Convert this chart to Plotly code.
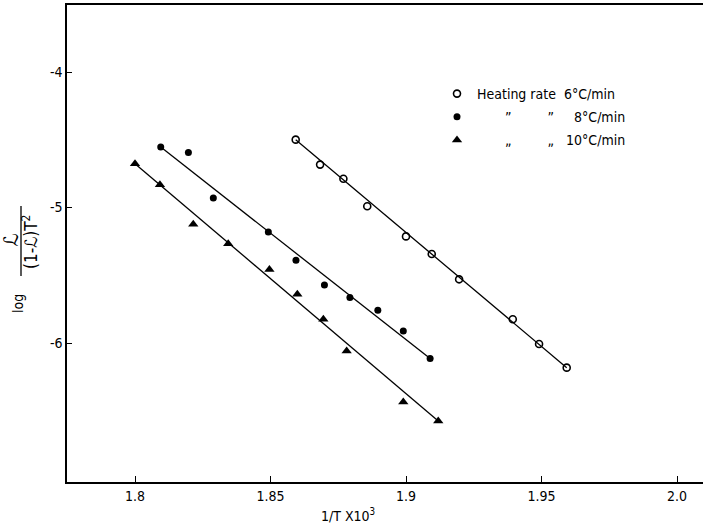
import plotly.graph_objects as go

# ---- data ----
x6 = [1.8593, 1.8683, 1.8769, 1.8857, 1.9000, 1.9095, 1.9196, 1.9394, 1.9491, 1.9593]
y6 = [-4.499, -4.683, -4.787, -4.991, -5.213, -5.343, -5.530, -5.825, -6.007, -6.182]

x8 = [1.8095, 1.8197, 1.8289, 1.8492, 1.8594, 1.8699, 1.8793, 1.8896, 1.8990, 1.9089]
y8 = [-4.553, -4.593, -4.930, -5.181, -5.390, -5.572, -5.665, -5.759, -5.911, -6.115]

x10 = [1.8000, 1.8092, 1.8215, 1.8344, 1.8496, 1.8599, 1.8695, 1.8781, 1.8990, 1.9119]
y10 = [-4.676, -4.831, -5.124, -5.267, -5.458, -5.641, -5.825, -6.059, -6.435, -6.576]

# fitted straight lines (end points)
fit6_x = [1.8593, 1.9593]
fit6_y = [-4.499, -6.182]
fit8_x = [1.8095, 1.9089]
fit8_y = [-4.553, -6.115]
fit10_x = [1.8000, 1.9119]
fit10_y = [-4.676, -6.576]

xtick_vals = [1.80, 1.85, 1.90, 1.95, 2.00]
xtick_text = ["1.8", "1.85", "1.9", "1.95", "2.0"]
ytick_vals = [-4, -5, -6]
ytick_text = ["-4", "-5", "-6"]

NB = "\u00a0"
names = [
    "Heating rate  6°C/min",
    NB * 7 + "”" + NB * 9 + "”" + NB * 5 + "8°C/min",
    NB * 7 + "„" + NB * 9 + "„" + NB * 3 + "10°C/min",
]

FONT = "DejaVu Sans Condensed, DejaVu Sans, sans-serif"
W, H = 703, 528
L, R, T, B = 67, 0, 5, 46
PW, PH = W - L - R, H - T - B

def px(x):
    return (x - L) / PW

def py(y):
    return (H - B - y) / PH

fig = go.Figure()
line_style = dict(color="black", width=1.3)
for fx, fy in [(fit6_x, fit6_y), (fit8_x, fit8_y), (fit10_x, fit10_y)]:
    fig.add_trace(go.Scatter(x=fx, y=fy, mode="lines", line=line_style,
                             showlegend=False, hoverinfo="skip"))

fig.add_trace(go.Scatter(x=x6, y=y6, mode="markers", name=names[0], legendgroup="a",
                         marker=dict(symbol="circle-open", size=7, color="black",
                                     line=dict(width=1.6, color="black"))))
fig.add_trace(go.Scatter(x=x8, y=y8, mode="markers", name=names[1], legendgroup="b",
                         marker=dict(symbol="circle", size=7, color="black")))
fig.add_trace(go.Scatter(x=x10, y=y10, mode="markers", name=names[2], legendgroup="c",
                         marker=dict(symbol="triangle-up", size=9, color="black")))

fig.update_xaxes(range=[1.77491, 2.00959], showline=True, linecolor="black", linewidth=1.5,
                 mirror=True, ticks="inside", ticklen=6, tickwidth=1.2, tickcolor="black",
                 tickvals=xtick_vals, ticktext=xtick_text, showgrid=False, zeroline=False,
                 tickfont=dict(family=FONT, size=14, color="black"))
fig.update_yaxes(range=[-7.026, -3.505], showline=True, linecolor="black", linewidth=1.5,
                 mirror=False, ticks="inside", ticklen=5, tickwidth=1.2, tickcolor="black",
                 tickvals=ytick_vals, ticktext=ytick_text, showgrid=False, zeroline=False,
                 tickfont=dict(family=FONT, size=14, color="black"))

ann = [
    dict(text="1/T X10<sup>3</sup>", x=px(348), y=py(515), size=14, angle=0),
    dict(text="log", x=px(18), y=py(304), size=14, angle=-90),
    dict(text="ℒ", x=px(11), y=py(240), size=20, angle=-90),
    dict(text="(1-ℒ)T<sup>2</sup>", x=px(30), y=py(242), size=17, angle=-90),
]
for a in ann:
    fig.add_annotation(text=a["text"], x=a["x"], y=a["y"], xref="paper", yref="paper",
                       showarrow=False, textangle=a["angle"], xanchor="center",
                       yanchor="middle", font=dict(family=FONT, size=a["size"], color="black"))

fig.add_shape(type="line", xref="paper", yref="paper", x0=px(21), x1=px(21),
              y0=py(206), y1=py(276), line=dict(color="black", width=1.3))

fig.update_layout(
    width=W, height=H, margin=dict(l=L, r=R, t=T, b=B),
    paper_bgcolor="white", plot_bgcolor="white",
    legend=dict(x=px(437), y=py(78), xanchor="left", yanchor="top",
                font=dict(family=FONT, size=14, color="black"),
                bgcolor="rgba(0,0,0,0)", tracegroupgap=2, itemwidth=30),
)

fig.write_html("out.html")
